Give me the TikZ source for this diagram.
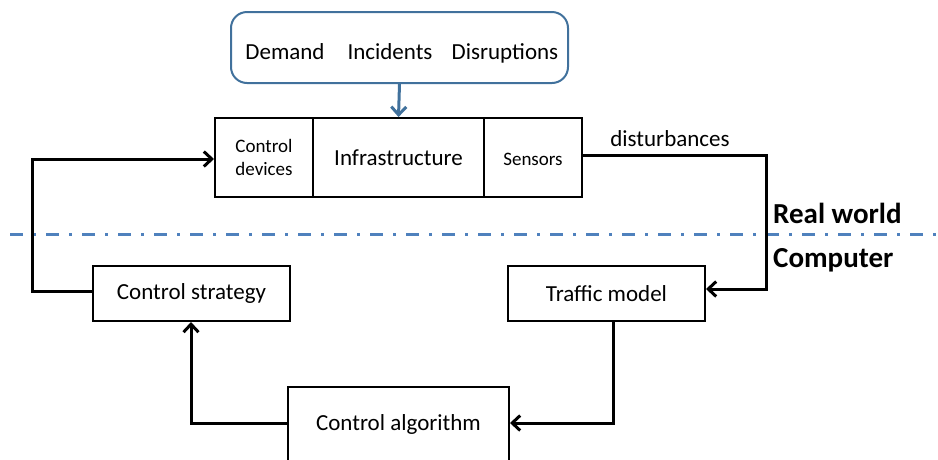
\documentclass[tikz,border=0pt]{standalone}
\usepackage{fontspec}
\setmainfont{Carlito}
\usetikzlibrary{arrows.meta}
\definecolor{ofblue}{HTML}{4F81BD}
\definecolor{ofblueD}{HTML}{41719C}
\begin{document}
\begin{tikzpicture}[x=1pt,y=-1pt,
  box/.style={draw=black,line width=2pt,inner sep=0pt,align=center},
  big/.style={font=\fontsize{23}{26}\selectfont},
  small/.style={font=\fontsize{19}{23}\selectfont},
  conn/.style={line width=3pt,draw=black,line cap=rect},
  tip/.style={-{Straight Barb[length=8pt,width=15pt,line width=3pt]}},
]
\useasboundingbox (0,0) rectangle (938,459);
% top rounded box
\node[draw=ofblueD,line width=2pt,rounded corners=16pt,minimum width=337pt,minimum height=71pt,inner sep=0pt] (ext) at (399.5,47.5) {};
\node[big,anchor=base] (dem) at (285,59) {Demand};
\node[big,anchor=base] (inc) at (390,59) {Incidents};
\node[big,anchor=base] (dis) at (505,59) {Disruptions};
% infrastructure row
\node[box,small,minimum width=98pt,minimum height=79pt] (cd) at (264,157.5) {Control\\devices};
\node[box,big,minimum width=171pt,minimum height=79pt] (inf) at (398.5,157.5) {Infrastructure};
\node[box,small,minimum width=98pt,minimum height=79pt,text depth=0pt] (sen) at (533,157.5) {\raisebox{-3pt}{Sensors}};
% computer side
\node[box,big,minimum width=197pt,minimum height=55pt] (cs) at (191.5,293.5) {Control strategy};
\node[box,big,minimum width=197pt,minimum height=55pt] (tm) at (606.5,293.5) {Traffic model};
\node[box,draw=none,minimum width=221pt,minimum height=76pt] (ca) at (398.5,425) {};
\draw[line width=2pt] (288,462) -- (288,387) -- (509,387) -- (509,462);
\node[big] (catxt) at (398.5,424) {Control algorithm};
% separator
\draw[ofblue,line width=3pt,dash pattern=on 13pt off 10pt on 3pt off 10pt] (10,234.7) -- (938,234.7);
\node[font=\fontsize{29}{32}\selectfont\bfseries,anchor=base west,inner sep=0pt] (rw) at (773,223) {Real world};
\node[font=\fontsize{29}{32}\selectfont\bfseries,anchor=base west,inner sep=0pt] (cp) at (773,267) {Computer};
% blue arrow
\draw[ofblueD,line width=3pt,-{Straight Barb[length=8pt,width=15pt,line width=3pt]}] (ext.south) -- (inf.north);
% disturbances loop
\coordinate (dr) at (766,155);
\coordinate (db) at (766,289);
\draw[conn,tip] (sen.east |- dr) -- (dr) -- (db) -- (tm.east |- db);
\node[big,anchor=base] (dlab) at (670,146) {disturbances};
% left loop
\coordinate (ltop) at (32,159);
\coordinate (lbot) at (32,291);
\draw[conn,tip] (cs.west |- lbot) -- (lbot) -- (ltop) -- (cd.west |- ltop);
% bottom loops
\coordinate (bl) at (191,423);
\coordinate (br) at (613,423);
\draw[conn,tip] (ca.west |- bl) -- (bl) -- (bl |- cs.south);
\draw[conn,tip] (br |- tm.south) -- (br) -- (ca.east |- br);
\end{tikzpicture}
\end{document}
